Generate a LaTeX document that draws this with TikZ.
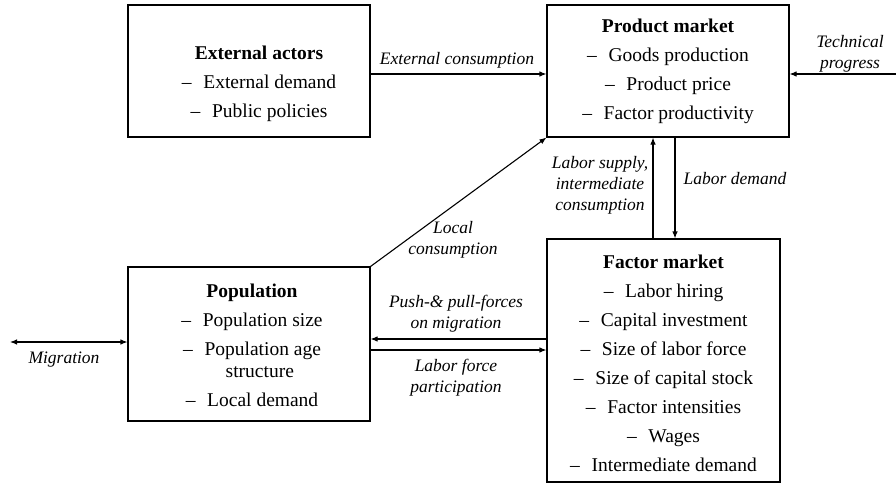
\documentclass[tikz,border=0pt]{standalone}
\usepackage{fontspec}
\setmainfont{Liberation Serif}
\usetikzlibrary{arrows.meta,calc}
\begin{document}
\begin{tikzpicture}[x=1pt,y=-1pt,
  boxnode/.style={draw=black,line width=1.1pt,rectangle,inner sep=0pt},
  boxtext/.style={align=center,inner sep=0pt,font=\fontsize{19.5}{29}\selectfont},
  lbl/.style={align=center,inner sep=0pt,font=\fontsize{17.5}{21}\selectfont\itshape},
  arr/.style={line width=1.1pt,-{Latex[length=7pt,width=5.5pt]}},
  darr/.style={line width=1.1pt,{Latex[length=7pt,width=5.5pt]}-{Latex[length=7pt,width=5.5pt]}},
  ln/.style={line width=1.1pt}]
\useasboundingbox (0,0) rectangle (896,484);
% boxes
\node[boxnode,minimum width=242pt,minimum height=132pt] (ext) at (249,71) {};
\node[boxnode,minimum width=242pt,minimum height=132pt] (prod) at (668,71) {};
\node[boxnode,minimum width=242pt,minimum height=154pt] (pop) at (249,344) {};
\node[boxnode,minimum width=233pt,minimum height=243pt] (fac) at (663.5,360.5) {};
% box texts
\node[boxtext] (exttxt) at (259,84) {\textbf{External actors}\\ –\hspace{0.6em}External demand\\ –\hspace{0.6em}Public policies};
\node[boxtext] (prodtxt) at (668,71) {\textbf{Product market}\\ –\hspace{0.6em}Goods production\\ –\hspace{0.6em}Product price\\ –\hspace{0.6em}Factor productivity};
\node[boxtext] (poptxt) at (252,345) {\textbf{Population}\\ –\hspace{0.6em}Population size\\ –\hspace{0.6em}Population age\\[-7pt] \hspace{0.8em}structure\\ –\hspace{0.6em}Local demand};
\node[boxtext] (factxt) at (663.5,363) {\textbf{Factor market}\\ –\hspace{0.6em}Labor hiring\\ –\hspace{0.6em}Capital investment\\ –\hspace{0.6em}Size of labor force\\ –\hspace{0.6em}Size of capital stock\\ –\hspace{0.6em}Factor intensities\\ –\hspace{0.6em}Wages\\ –\hspace{0.6em}Intermediate demand};
% helper coordinates
\coordinate (h74) at (0,74);
\coordinate (h339) at (0,339);
\coordinate (h350) at (0,350);
\coordinate (h342) at (0,342);
\coordinate (vls) at (653,0);
\coordinate (vld) at (675,0);
\coordinate (tp) at (896,74);
\coordinate (mig) at (10,342);
% connectors
\draw[arr] (ext.east |- h74) -- (prod.west |- h74);
\draw[arr] (tp) -- (prod.east |- h74);
\draw[arr] (pop.north east) -- (prod.south west);
\draw[arr] (fac.north -| vls) -- (prod.south -| vls);
\draw[arr] (prod.south -| vld) -- (fac.north -| vld);
\draw[arr] (fac.west |- h339) -- (pop.east |- h339);
\draw[arr] (pop.east |- h350) -- (fac.west |- h350);
\draw[darr] (mig) -- (pop.west |- h342);
% labels
\node[lbl] (lext) at (457,60) {External consumption};
\node[lbl] (ltech) at (850,54) {Technical\\progress};
\node[lbl] (lloc) at (453,240) {Local\\consumption};
\node[lbl] (lsup) at (600,185) {Labor supply,\\intermediate\\consumption};
\node[lbl] (ldem) at (735,179) {Labor demand};
\node[lbl] (lpush) at (456,314) {Push-\& pull-forces\\on migration};
\node[lbl] (llab) at (456,378) {Labor force\\participation};
\node[lbl] (lmig) at (64,360) {Migration};
\end{tikzpicture}
\end{document}
